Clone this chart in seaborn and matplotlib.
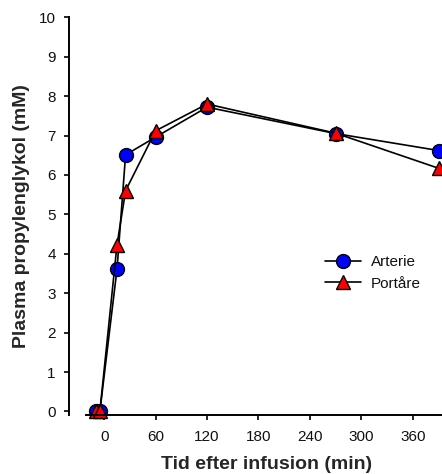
import matplotlib
matplotlib.use("Agg")
import matplotlib.pyplot as plt
import seaborn as sns
import pandas as pd

# Sampling times (min) and plasma propylene glycol concentrations (mM)
time_min = [-10, -5, 15, 25, 60, 120, 270, 390]
arterie = [0.0, 0.0, 3.61, 6.51, 6.96, 7.72, 7.05, 6.62]
portare = [0.0, 0.0, 4.23, 5.60, 7.12, 7.80, 7.06, 6.17]
series_names = ["Arterie", "Portåre"]
x_ticks = [0, 60, 120, 180, 240, 300, 360]
y_ticks = list(range(0, 11))

df = pd.concat([
    pd.DataFrame({"Tid": time_min, "Konc": arterie, "Serie": series_names[0]}),
    pd.DataFrame({"Tid": time_min, "Konc": portare, "Serie": series_names[1]}),
])

sns.set_theme(style="ticks")
plt.rcParams["font.family"] = ["Liberation Sans", "DejaVu Sans"]

fig = plt.figure(figsize=(4.42, 4.74), dpi=100)
ax = fig.add_axes([0.1561, 0.1245, 0.8439, 0.839])

styles = {
    "Arterie": dict(marker="o", markerfacecolor="#0000ff", markersize=10),
    "Portåre": dict(marker="^", markerfacecolor="#ff0000", markersize=10),
}
for name in series_names:
    sns.lineplot(data=df[df["Serie"] == name], x="Tid", y="Konc", ax=ax,
                 color="black", linewidth=1.2, markeredgecolor="black",
                 markeredgewidth=1.0, label=name, clip_on=False,
                 **styles[name])

ax.set_xlim(-41, 394)
ax.set_ylim(-0.09, 10)
ax.set_xticks(x_ticks)
ax.set_yticks(y_ticks)
ax.tick_params(axis="both", labelsize=11, length=3.5, width=1.2,
               color="black", labelcolor="#111111")
ax.tick_params(axis="y", pad=6)
ax.tick_params(axis="x", pad=7)

sns.despine(ax=ax)
for side in ("left", "bottom"):
    ax.spines[side].set_color("black")
    ax.spines[side].set_linewidth(1.4)
ax.spines["bottom"].set_bounds(-21, 394)

ax.set_xlabel("Tid efter infusion (min)", fontsize=14, fontweight="bold",
              va="center")
ax.xaxis.set_label_coords(0.531, -0.1257)
ax.set_ylabel("Plasma propylenglykol (mM)", fontsize=14, fontweight="bold",
              va="center")
ax.yaxis.set_label_coords(-0.128, 0.5)

leg = ax.legend(loc="center left", bbox_to_anchor=(0.667, 0.357),
                frameon=False, fontsize=11, handlelength=2.35,
                handletextpad=0.6, labelspacing=0.5, borderpad=0)
for t in leg.get_texts():
    t.set_color("#111111")

fig.savefig("out.png", dpi=100)
